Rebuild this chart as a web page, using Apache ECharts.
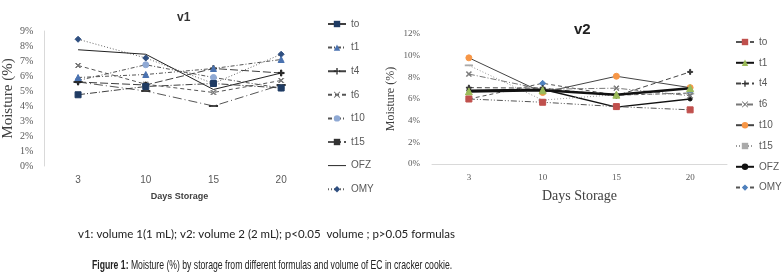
<!DOCTYPE html>
<html>
<head>
<meta charset="utf-8">
<script src="https://cdn.jsdelivr.net/npm/echarts@6/dist/echarts.min.js"></script>
<style>
  html, body { margin: 0; padding: 0; background: #fff; }
  #chart { width: 782px; height: 280px; }
</style>
</head>
<body>
<div id="chart"></div>
<script>
// storage days (categories)
const days = ['3', '10', '15', '20'];
const names = ['to', 't1', 't4', 't6', 't10', 't15', 'OFZ', 'OMY'];

// v1 moisture (%)
const v1To = [4.75, 5.3, 5.5, 5.2];
const v1T1 = [5.9, 6.1, 6.5, 7.1];
const v1T4 = [5.6, 5.4, 6.5, 6.2];
const v1T6 = [6.7, 5.45, 4.9, 5.7];
const v1T10 = [5.7, 6.75, 5.9, 5.2];
const v1T15 = [5.6, 5.0, 4.0, 5.4];
const v1OFZ = [7.75, 7.45, 5.1, 6.2];
const v1OMY = [8.45, 7.2, 5.5, 7.45];

// v2 moisture (%)
const v2To = [6.0, 5.7, 5.3, 5.0];
const v2T1 = [6.7, 6.8, 6.4, 7.0];
const v2T4 = [7.05, 7.0, 6.3, 8.5];
const v2T6 = [8.3, 6.9, 7.0, 6.3];
const v2T10 = [9.8, 6.6, 8.1, 7.05];
const v2T15 = [9.1, 5.9, 6.4, 6.5];
const v2OFZ = [6.8, 6.9, 5.25, 6.0];
const v2OMY = [6.0, 7.45, 6.35, 6.55];

const PLUS = 'path://M4,0H6V4H10V6H6V10H4V6H0V4H4Z';
const CROSS = 'path://M1,0L5,4L9,0L10,1L6,5L10,9L9,10L5,6L1,10L0,9L4,5L0,1Z';

// [data, lineColor, lineType, lineWidth, symbol, symbolSize, markerColor]
const v1Style = [
  [v1To, '#404040', [7, 2, 1, 2], 1, 'rect', 6, '#1f3b63'],
  [v1T1, '#555', [4, 2, 1, 2], 1, 'triangle', 6, '#4a72b0'],
  [v1T4, '#404040', [8, 3], 1, PLUS, 6, '#222'],
  [v1T6, '#555', [4, 3], 1, CROSS, 5, '#777'],
  [v1T10, '#555', [4, 2, 1, 2], 1, 'circle', 6, '#8fa9d4'],
  [v1T15, '#555', [9, 3, 1, 3], 1, 'rect', [7, 1.5], '#333'],
  [v1OFZ, '#222', 'solid', 1, 'none', 0, '#222'],
  [v1OMY, '#666', [1, 2], 1, 'diamond', 6, '#2f4f80']
];
const v2Style = [
  [v2To, '#555', [6, 2, 1, 2, 1, 2], 1, 'rect', 6, '#c0504d'],
  [v2T1, '#111', 'solid', 2.5, 'triangle', 7, '#9bbb59'],
  [v2T4, '#444', [5, 3], 1, PLUS, 5, '#333'],
  [v2T6, '#777', [6, 2, 1, 2], 1, CROSS, 5, '#777'],
  [v2T10, '#444', 'solid', 1, 'circle', 6, '#f79646'],
  [v2T15, '#999', [1, 2], 1, 'rect', [6, 1.2], '#aaa'],
  [v2OFZ, '#111', 'solid', 1.5, 'circle', 4, '#111'],
  [v2OMY, '#555', [4, 3], 1, 'diamond', 6, '#4f81bd']
];

function buildSeries(styles, axis, prefix) {
  return styles.map((s, i) => ({
    name: prefix + names[i],
    type: 'line',
    xAxisIndex: axis,
    yAxisIndex: axis,
    data: s[0],
    lineStyle: { color: s[1], type: s[2], width: s[3] },
    symbol: s[4],
    symbolSize: s[5],
    showSymbol: s[4] !== 'none',
    itemStyle: { color: s[6], borderColor: s[6] },
    z: 10 - i
  }));
}

const serif = 'Liberation Serif';
const sans = 'Liberation Sans';

const v1Legend = names.map(n => n === 'OFZ'
  ? { name: n, icon: 'path://M0,0H22V1.2H0Z', itemStyle: { color: '#222' } }
  : n);

const chart = echarts.init(document.getElementById('chart'));
chart.setOption({
  animation: false,
  backgroundColor: '#fff',
  title: [
    { text: 'v1', left: 172, top: 7, textStyle: { fontFamily: sans, fontSize: 12, fontWeight: 'bold', color: '#333' } },
    { text: 'v2', left: 569, top: 17, textStyle: { fontFamily: sans, fontSize: 15, fontWeight: 'bold', color: '#222' } },
    {
      text: 'v1: volume 1(1 mL); v2: volume 2 (2 mL); p<0.05  volume ; p>0.05 formulas',
      left: 73, top: 223,
      textStyle: { fontFamily: 'Lato', fontSize: 11.5, fontWeight: 'normal', color: '#222' }
    }
  ],
  graphic: [{
    type: 'text',
    x: 92, y: 259,
    scaleX: 0.665,
    style: {
      text: '{b|Figure 1:} Moisture (%) by storage from different formulas and volume of EC in cracker cookie.',
      font: '13px Liberation Sans',
      fill: '#222',
      rich: { b: { fontFamily: sans, fontSize: 13, fontWeight: 'bold', fill: '#222' } }
    }
  }],
  legend: [
    {
      data: v1Legend, orient: 'vertical', left: 322, top: 14,
      itemWidth: 18, itemHeight: 8, itemGap: 13.6,
      textStyle: { fontFamily: sans, fontSize: 10, color: '#595959' }
    },
    {
      data: names.map(n => 'v2 ' + n), orient: 'vertical', left: 730, top: 32,
      itemWidth: 18, itemHeight: 8, itemGap: 10.8,
      formatter: n => n.replace('v2 ', ''),
      textStyle: { fontFamily: sans, fontSize: 10, color: '#595959' }
    }
  ],
  grid: [
    { left: 43, top: 31, width: 272, height: 135 },
    { left: 432, top: 34, width: 295, height: 130 }
  ],
  xAxis: [
    {
      type: 'category', gridIndex: 0, data: days,
      axisLine: { show: false }, axisTick: { show: false },
      axisLabel: { fontFamily: sans, fontSize: 10, color: '#595959', margin: 9 },
      name: 'Days Storage', nameLocation: 'middle', nameGap: 26,
      nameTextStyle: { fontFamily: sans, fontSize: 9, fontWeight: 'bold', color: '#404040' }
    },
    {
      type: 'category', gridIndex: 1, data: days,
      axisLine: { show: true, lineStyle: { color: '#d9d9d9' } }, axisTick: { show: false },
      axisLabel: { fontFamily: serif, fontSize: 9, color: '#595959', margin: 9 },
      name: 'Days Storage', nameLocation: 'middle', nameGap: 25,
      nameTextStyle: { fontFamily: serif, fontSize: 14, color: '#404040' }
    }
  ],
  yAxis: [
    {
      type: 'value', gridIndex: 0, min: 0, max: 9, interval: 1,
      axisLine: { show: true, lineStyle: { color: '#d9d9d9' } }, axisTick: { show: false },
      splitLine: { show: false },
      axisLabel: { formatter: '{value}%', fontFamily: serif, fontSize: 10, color: '#595959', margin: 11 },
      name: 'Moisture (%)', nameLocation: 'middle', nameGap: 23,
      nameTextStyle: { fontFamily: serif, fontSize: 15, color: '#404040' }
    },
    {
      type: 'value', gridIndex: 1, min: 0, max: 12, interval: 2,
      axisLine: { show: false }, axisTick: { show: false },
      splitLine: { show: false },
      axisLabel: { formatter: '{value}%', fontFamily: serif, fontSize: 9, color: '#595959', margin: 12 },
      name: 'Moisture (%)', nameLocation: 'middle', nameGap: 35,
      nameTextStyle: { fontFamily: serif, fontSize: 12, color: '#404040' }
    }
  ],
  series: buildSeries(v1Style, 0, '').concat(buildSeries(v2Style, 1, 'v2 '))
});
</script>
</body>
</html>
